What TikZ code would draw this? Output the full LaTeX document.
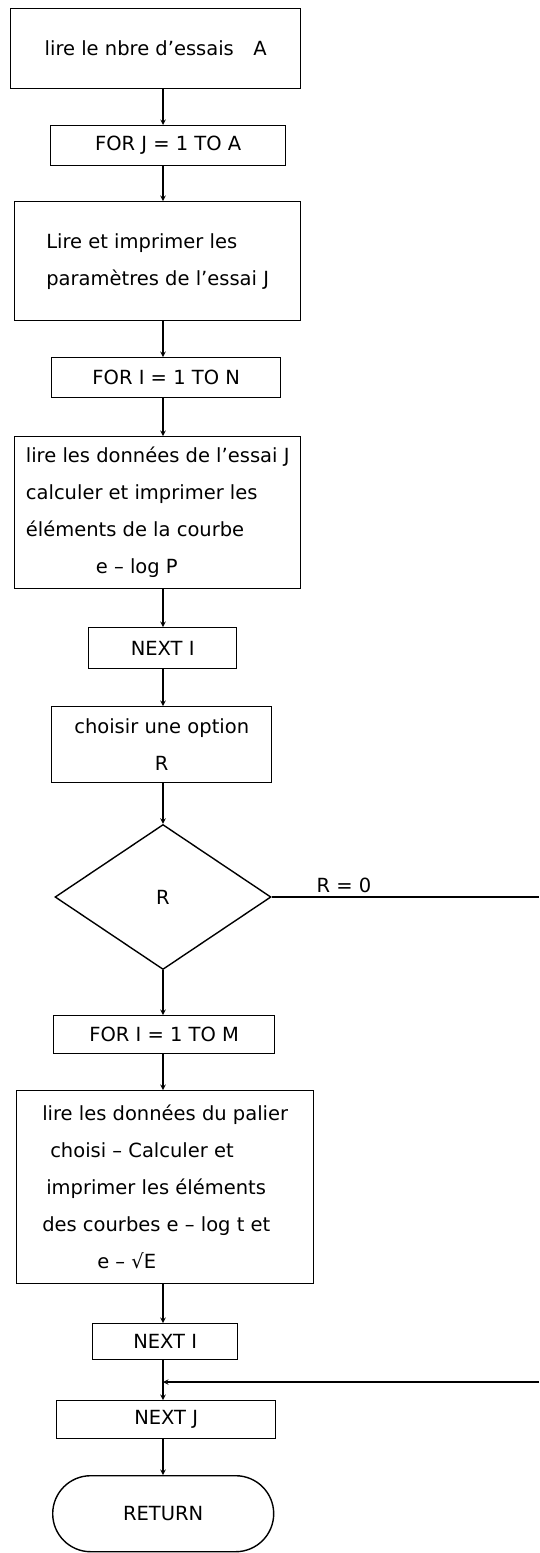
\documentclass[tikz,border=0pt]{standalone}
\usepackage{fontspec}
\setmainfont{DejaVu Sans}
\usepackage{tikz}
\usetikzlibrary{shapes.geometric, arrows}
\tikzstyle{st} = [rectangle, draw=black, line width=1.4pt, inner sep=4pt, anchor=north west, font=\fontsize{19.5}{37}\selectfont]
\tikzstyle{dec} = [diamond, draw=black, line width=1.4pt, minimum width=216pt, minimum height=145pt, inner sep=0pt, font=\fontsize{19.5}{37}\selectfont]
\tikzstyle{term} = [rectangle, rounded corners=38pt, draw=black, line width=1.4pt, anchor=north west, font=\fontsize{19.5}{37}\selectfont]
\tikzstyle{arrow} = [line width=1.4pt,->,>=stealth]

\begin{document}
\begin{tikzpicture}[x=1pt, y=-1pt]
      \useasboundingbox (0,0) rectangle (539,1553);
      \coordinate (spine) at (163,0);
      % boucle sur les essais
      \node [st, minimum width=290pt, minimum height=80pt] (lire) at (10,8) {lire le nbre d'essais\quad A};
      \node [st, minimum width=235pt, minimum height=40pt] (forj) at (50,125) {FOR J = 1 TO A};
      \node [st, minimum width=286pt, minimum height=119pt, align=left] (param) at (14,201) {Lire et imprimer les\\paramètres de l'essai J};
      \node [st, minimum width=229pt, minimum height=40pt] (fori) at (51,357) {FOR I = 1 TO N};
      \node [st, minimum width=286pt, minimum height=152pt, align=left] (calc) at (14,436) {lire les données de l'essai J\\calculer et imprimer les\\éléments de la courbe\\\hspace*{70pt}e -- log P};
      \node [st, minimum width=148pt, minimum height=41pt] (nexti) at (88,627) {NEXT I};
      \node [st, minimum width=220pt, minimum height=76pt, align=center] (choix) at (51,706) {choisir une option\\R};
      \node [dec] (opt) at (163,897) {R};
      % boucle sur les paliers
      \node [st, minimum width=221pt, minimum height=38pt] (form) at (53,1015) {FOR I = 1 TO M};
      \node [st, minimum width=297pt, minimum height=193pt, align=left] (palier) at (16,1090) {lire les données du palier\\
        \hspace*{8pt}choisi -- Calculer et\\
        \hspace*{4pt}imprimer les éléments\\
        des courbes e -- log t et\\
        \hspace*{55pt}e -- √E};
      \node [st, minimum width=145pt, minimum height=36pt] (nexti2) at (92,1323) {NEXT I};
      \node [st, minimum width=219pt, minimum height=38pt] (nextj) at (56,1400) {NEXT J};
      \node [term, minimum width=221pt, minimum height=76pt] (ret) at (52,1475) {RETURN};

      \coordinate (out) at (539,897);
      \coordinate (back) at (539,1382);
      \coordinate (join) at (163,1382);

      \draw [arrow] (lire.south -| spine) -- (forj.north -| spine);
      \draw [arrow] (forj.south -| spine) -- (param.north -| spine);
      \draw [arrow] (param.south -| spine) -- (fori.north -| spine);
      \draw [arrow] (fori.south -| spine) -- (calc.north -| spine);
      \draw [arrow] (calc.south -| spine) -- (nexti.north -| spine);
      \draw [arrow] (nexti.south -| spine) -- (choix.north -| spine);
      \draw [arrow] (choix.south -| spine) -- (opt.north);
      \draw [arrow] (opt.south) -- (form.north -| spine);
      \draw [arrow] (form.south -| spine) -- (palier.north -| spine);
      \draw [arrow] (palier.south -| spine) -- (nexti2.north -| spine);
      \draw [arrow] (nexti2.south -| spine) -- (nextj.north -| spine);
      \draw [arrow] (nextj.south -| spine) -- (ret.north -| spine);
      \draw [line width=1.4pt] (opt.east) -- node [above, pos=0.27, font=\fontsize{19.5}{37}\selectfont] {R = 0} (out);
      \draw [arrow] (back) -- (join);
\end{tikzpicture}
\end{document}
